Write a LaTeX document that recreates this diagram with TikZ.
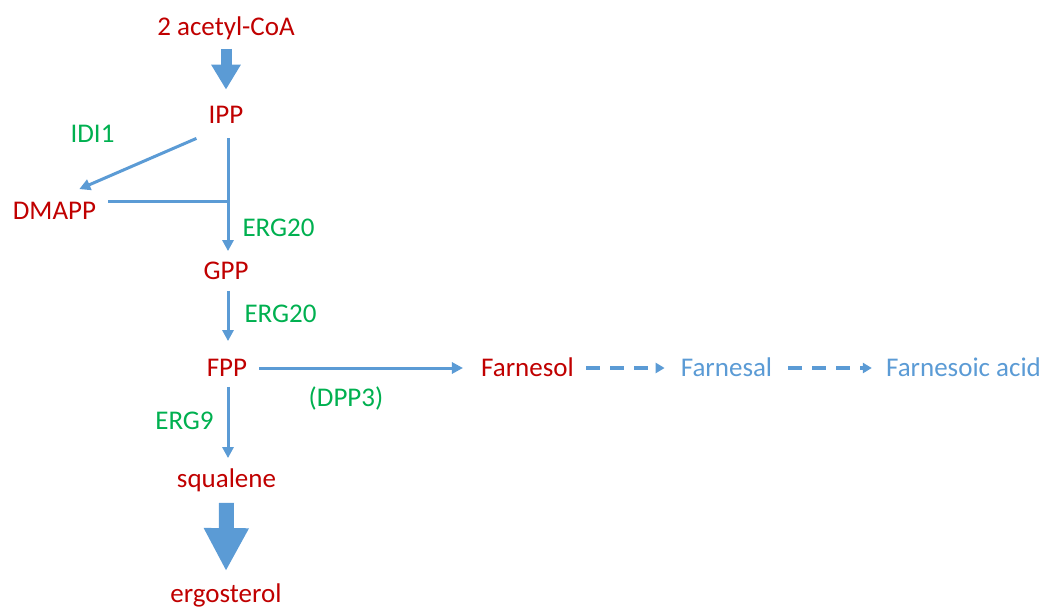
\documentclass[tikz,border=0pt]{standalone}
\usepackage{fontspec}
\setmainfont{Carlito}
\usepackage{xcolor}
\usepackage{tikz}
\usetikzlibrary{positioning,calc,arrows.meta}
\definecolor{metred}{HTML}{C00000}
\definecolor{enzgreen}{HTML}{00B050}
\definecolor{pathblue}{HTML}{5B9BD5}

\begin{document}
\begin{tikzpicture}[x=1pt,y=-1pt,
    metab/.style={text=metred, inner sep=0pt, text height=17.4pt, text depth=0pt, font=\fontsize{27}{30}\selectfont},
    enzyme/.style={metab, text=enzgreen},
    product/.style={metab, text=pathblue},
    flow/.style={draw=pathblue, line width=3pt, -{Triangle[length=11pt,width=11pt]}},
    sideflow/.style={draw=pathblue, line width=3.2pt, dash pattern=on 14pt off 10pt, -{Triangle[length=9pt,width=10pt]}},
    bigflow/.style={draw=pathblue, -{Triangle[length=25pt,width=28pt]}}]
    \useasboundingbox (0,0) rectangle (1045,608);

    % Metabolites
    \node[metab] (acetyl) at (226,27) {2 acetyl-CoA};
    \node[metab] (ipp) at (226,114.5) {IPP};
    \node[metab] (dmapp) at (54.5,211) {DMAPP};
    \node[metab] (gpp) at (226,271) {GPP};
    \node[metab] (fpp) at (227,368) {FPP};
    \node[metab] (squalene) at (226.5,479) {squalene};
    \node[metab] (ergosterol) at (226,594) {ergosterol};
    \node[metab] (farnesol) at (527.5,368) {Farnesol};
    \node[product] (farnesal) at (726.5,368) {Farnesal};
    \node[product] (farnesoic) at (963.5,368) {Farnesoic acid};

    % Enzymes
    \node[enzyme] (idi) at (92.5,134) {IDI1};
    \node[enzyme] (ergA) at (278.5,228) {ERG20};
    \node[enzyme] (ergB) at (280.5,314) {ERG20};
    \node[enzyme] (erg9) at (184.5,420.5) {ERG9};
    \node[enzyme] (dpp) at (346,398) {(DPP3)};

    % Block arrows
    \draw[bigflow, line width=11pt] ([yshift=-13pt]acetyl.south) -- ([yshift=16pt]ipp.north);
    \draw[bigflow, line width=15pt, -{Triangle[length=43pt,width=42pt]}] ([yshift=-15pt]squalene.south) -- ([yshift=14pt]ergosterol.north);

    % Isomerisation and condensation
    \draw[flow] ([xshift=-12pt,yshift=-15pt]ipp.south west) -- ([xshift=-17pt,yshift=13pt]dmapp.north east);
    \draw[flow] ([xshift=2pt,yshift=-15pt]ipp.south) -- ([xshift=2pt,yshift=11pt]gpp.north);
    \coordinate (junc) at (228,201);
    \draw[draw=pathblue, line width=3pt] ([xshift=12pt,yshift=10pt]dmapp.east) -- ([xshift=1.5pt]junc);
    \draw[flow] ([xshift=2pt,yshift=-11pt]gpp.south) -- ([xshift=1pt,yshift=18pt]fpp.north);
    \draw[flow] ([xshift=1pt,yshift=-10pt]fpp.south) -- ([xshift=1.5pt,yshift=12pt]squalene.north);

    % Farnesol branch
    \draw[flow] ([xshift=12pt]fpp.east) -- ([xshift=-18pt]farnesol.west);
    \draw[sideflow] ([xshift=12pt]farnesol.east) -- ([xshift=-16pt]farnesal.west);
    \draw[sideflow] ([xshift=16pt]farnesal.east) -- ([xshift=-14pt]farnesoic.west);
\end{tikzpicture}
\end{document}
